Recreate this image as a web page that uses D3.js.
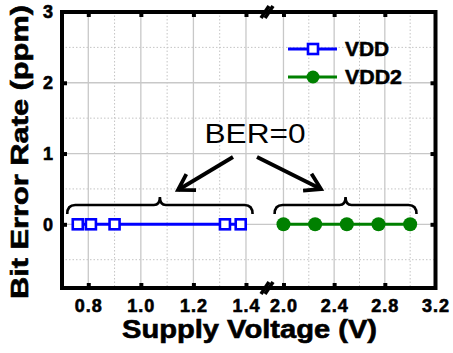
<!DOCTYPE html>
<html><head><meta charset="utf-8">
<script src="https://cdn.jsdelivr.net/npm/d3@7"></script>
<style>
html,body{margin:0;padding:0;background:#fff;}
svg{display:block;font-family:Arial,"Liberation Sans",sans-serif;}
</style></head>
<body>
<svg id="c" width="453" height="353"></svg>
<script>
// ---- data ----
const vddX = [0.76, 0.81, 0.9, 1.32, 1.38];
const vddY = [0, 0, 0, 0, 0];
const vdd2X = [2.0, 2.25, 2.5, 2.75, 3.0];
const vdd2Y = [0, 0, 0, 0, 0];
const leftTicks = [0.8, 1.0, 1.2, 1.4];
const leftMinor = [0.9, 1.1, 1.3];
const rightTicks = [2.0, 2.4, 2.8, 3.2];
const rightMinor = [2.2, 2.6, 3.0];
const yTicks = [0, 1, 2, 3];
const yMinor = [-0.5, 0.5, 1.5, 2.5];
const seriesNames = ["VDD", "VDD2"];
const annotation = "BER=0";
const xTitle = "Supply Voltage (V)";
const yTitle = "Bit Error Rate (ppm)";

const svg = d3.select("#c");
const L = 62, R = 435.5, T = 12, B = 288, BRK = 267;
const xL = d3.scaleLinear().domain([0.7, 1.48]).range([L, BRK]);
const xR = d3.scaleLinear().domain([1.87, 3.2]).range([BRK, R]);
const y = d3.scaleLinear().domain([-0.9, 3]).range([B, T]);

const g = svg.append("g");
// grid
const vMinor = leftMinor.map(xL).concat(rightMinor.map(xR));
const vMajor = leftTicks.map(xL).concat(rightTicks.filter(d => d < 3.2).map(xR));
g.selectAll(".vmin").data(vMinor).join("line")
  .attr("x1", d => d).attr("x2", d => d).attr("y1", T).attr("y2", B)
  .attr("stroke", "#c4c4c4").attr("stroke-width", 1).attr("stroke-dasharray", "1.5,2");
g.selectAll(".hmin").data(yMinor).join("line")
  .attr("x1", L).attr("x2", R).attr("y1", d => y(d)).attr("y2", d => y(d))
  .attr("stroke", "#c4c4c4").attr("stroke-width", 1).attr("stroke-dasharray", "1.5,2");
g.selectAll(".vmaj").data(vMajor).join("line")
  .attr("x1", d => d).attr("x2", d => d).attr("y1", T).attr("y2", B)
  .attr("stroke", "#c8c8c8").attr("stroke-width", 1.3);
g.selectAll(".hmaj").data(yTicks.filter(d => d < 3)).join("line")
  .attr("x1", L).attr("x2", R).attr("y1", d => y(d)).attr("y2", d => y(d))
  .attr("stroke", "#c8c8c8").attr("stroke-width", 1.3);

// axes (labels) via d3 axis
function styleAxis(sel) {
  sel.select(".domain").remove();
  sel.selectAll(".tick line").attr("stroke", "#000").attr("stroke-width", 4);
  sel.selectAll(".tick text").attr("fill", "#000").attr("font-size", 18)
    .attr("font-weight", "bold").attr("font-family", "Arial, 'Liberation Sans', sans-serif")
    .attr("stroke", "#000").attr("stroke-width", 0.6);
}
svg.append("g").attr("transform", `translate(0,${B})`)
  .call(d3.axisBottom(xL).tickValues(leftTicks).tickFormat(d3.format(".1f")).tickSize(-5).tickPadding(11))
  .call(styleAxis).selectAll(".tick text").attr("letter-spacing", "1px");
svg.append("g").attr("transform", `translate(0,${B})`)
  .call(d3.axisBottom(xR).tickValues(rightTicks).tickFormat(d3.format(".1f")).tickSize(-5).tickPadding(11))
  .call(styleAxis).call(s => s.selectAll(".tick line").filter(d => d >= 3.2).remove())
  .selectAll(".tick text").attr("letter-spacing", "1px");
// top inner ticks
svg.append("g").attr("transform", `translate(0,${T})`)
  .call(d3.axisTop(xL).tickValues(leftTicks).tickSize(-5).tickFormat(""))
  .call(styleAxis);
svg.append("g").attr("transform", `translate(0,${T})`)
  .call(d3.axisTop(xR).tickValues(rightTicks.filter(d => d < 3.2)).tickSize(-5).tickFormat(""))
  .call(styleAxis);
svg.append("g").attr("transform", `translate(${L},0)`)
  .call(d3.axisLeft(y).tickValues(yTicks).tickFormat(d3.format("d")).tickSize(-5).tickPadding(9))
  .call(styleAxis).call(s => s.selectAll(".tick line").filter(d => d >= 3).remove());
svg.append("g").attr("transform", `translate(${R},0)`)
  .call(d3.axisRight(y).tickValues(yTicks.filter(d => d < 3)).tickSize(-5).tickFormat(""))
  .call(styleAxis);

// frame
svg.append("rect").attr("x", L).attr("y", T).attr("width", R - L).attr("height", B - T)
  .attr("fill", "none").attr("stroke", "#000").attr("stroke-width", 4);

// axis breaks
[T, B].forEach(yy => {
  [-2, 2].forEach(off => {
    svg.append("line")
      .attr("x1", BRK + off - 4).attr("y1", yy + 6)
      .attr("x2", BRK + off + 4).attr("y2", yy - 6)
      .attr("stroke", "#000").attr("stroke-width", 3.6);
  });
});

// series
const line = d3.line();
const blue = "#0000ff", green = "#008000";
svg.append("path").attr("d", line(vddX.map((d, i) => [xL(d), y(vddY[i])])))
  .attr("fill", "none").attr("stroke", blue).attr("stroke-width", 3);
svg.selectAll(".sq").data(vddX).join("rect")
  .attr("x", d => xL(d) - 5).attr("y", (d, i) => y(vddY[i]) - 5)
  .attr("width", 10).attr("height", 10)
  .attr("fill", "#fff").attr("stroke", blue).attr("stroke-width", 2.6);
svg.append("path").attr("d", line(vdd2X.map((d, i) => [xR(d), y(vdd2Y[i])])))
  .attr("fill", "none").attr("stroke", green).attr("stroke-width", 3);
svg.selectAll(".ci").data(vdd2X).join("circle")
  .attr("cx", d => xR(d)).attr("cy", (d, i) => y(vdd2Y[i])).attr("r", 7)
  .attr("fill", green);

// legend
const lg = svg.append("g");
lg.append("line").attr("x1", 288).attr("x2", 337).attr("y1", 49).attr("y2", 49)
  .attr("stroke", blue).attr("stroke-width", 3);
lg.append("rect").attr("x", 308).attr("y", 44).attr("width", 10).attr("height", 10)
  .attr("fill", "#fff").attr("stroke", blue).attr("stroke-width", 2.6);
lg.append("line").attr("x1", 288).attr("x2", 337).attr("y1", 77).attr("y2", 77)
  .attr("stroke", green).attr("stroke-width", 3);
lg.append("circle").attr("cx", 313).attr("cy", 77).attr("r", 6.5).attr("fill", green);
lg.append("text").attr("x", 345).attr("y", 56).text(seriesNames[0])
  .attr("font-size", 20).attr("font-weight", "bold").attr("stroke", "#000").attr("stroke-width", 0.5)
  .attr("textLength", 44).attr("lengthAdjust", "spacingAndGlyphs");
lg.append("text").attr("x", 345).attr("y", 84).text(seriesNames[1])
  .attr("font-size", 20).attr("font-weight", "bold").attr("stroke", "#000").attr("stroke-width", 0.5)
  .attr("textLength", 57).attr("lengthAdjust", "spacingAndGlyphs");

// braces
function brace(x0, x1, yb) {
  const xm = (x0 + x1) / 2, r = 8, top = yb - 9, tip = yb - 17;
  return `M${x0},${yb} Q${x0},${top} ${x0 + r},${top} L${xm - 6},${top} Q${xm},${top} ${xm},${tip}` +
         ` Q${xm},${top} ${xm + 6},${top} L${x1 - r},${top} Q${x1},${top} ${x1},${yb}`;
}
const braceY = 214;
svg.append("path").attr("d", brace(xL(0.72), xL(1.425), braceY))
  .attr("fill", "none").attr("stroke", "#000").attr("stroke-width", 2.6);
svg.append("path").attr("d", brace(xR(1.93), xR(3.05), braceY))
  .attr("fill", "none").attr("stroke", "#000").attr("stroke-width", 2.6);

// annotation
svg.append("text").attr("x", 255).attr("y", 143).attr("text-anchor", "middle")
  .attr("font-size", 28).attr("textLength", 101).attr("lengthAdjust", "spacingAndGlyphs")
  .text(annotation);
function arrow(x1, y1, x2, y2) {
  const a = Math.atan2(y2 - y1, x2 - x1), len = 18, sp = 0.55;
  svg.append("line").attr("x1", x1).attr("y1", y1).attr("x2", x2).attr("y2", y2)
    .attr("stroke", "#000").attr("stroke-width", 3.8);
  const p = [a + Math.PI - sp, a + Math.PI + sp].map(t => [x2 + len * Math.cos(t), y2 + len * Math.sin(t)]);
  svg.append("path").attr("d", `M${p[0][0]},${p[0][1]} L${x2},${y2} L${p[1][0]},${p[1][1]}`)
    .attr("fill", "none").attr("stroke", "#000").attr("stroke-width", 3.8).attr("stroke-linejoin", "miter");
}
arrow(233, 157, 178, 190);
arrow(257, 157, 321, 189);

// titles
svg.append("text").attr("x", 249.5).attr("y", 338).attr("text-anchor", "middle")
  .attr("font-size", 25).attr("font-weight", "bold").attr("stroke", "#000").attr("stroke-width", 0.6)
  .attr("textLength", 255).attr("lengthAdjust", "spacingAndGlyphs").text(xTitle);
svg.append("text").attr("transform", "translate(28,152) rotate(-90)").attr("text-anchor", "middle")
  .attr("font-size", 24).attr("font-weight", "bold").attr("stroke", "#000").attr("stroke-width", 0.6)
  .attr("textLength", 294).attr("lengthAdjust", "spacingAndGlyphs").text(yTitle);
</script>
</body></html>
